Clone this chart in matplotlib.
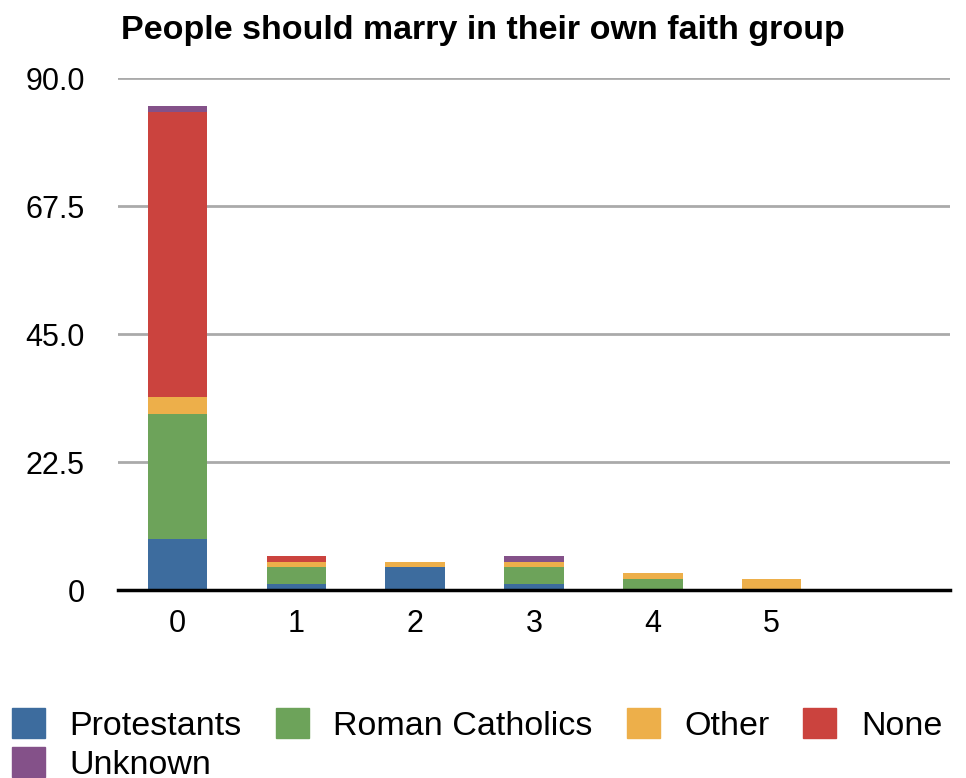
import numpy as np
import matplotlib.pyplot as plt
from matplotlib.patches import Patch

plt.rcParams['font.family'] = ['Liberation Sans', 'DejaVu Sans']

# datos
categorias = ['0', '1', '2', '3', '4', '5']
protestantes = [9, 1, 4, 1, 0, 0]
catolicos = [22, 3, 0, 3, 2, 0]
otros = [3, 1, 1, 1, 1, 2]
ninguno = [50, 1, 0, 0, 0, 0]
desconocido = [1, 0, 0, 1, 0, 0]

series = [('Protestants', protestantes, '#3D6C9E'),
          ('Roman Catholics', catolicos, '#6DA35A'),
          ('Other', otros, '#EDAF4A'),
          ('None', ninguno, '#CB433E'),
          ('Unknown', desconocido, '#845189')]

fig = plt.figure(figsize=(9.66, 7.78), dpi=100)
ax = fig.add_axes([118/966, 1 - 590/778, (950-118)/966, (590-78)/778])

x = np.arange(len(categorias))
base = np.zeros(len(categorias))
handles = {}
for nombre, vals, col in series:
    ax.bar(x, vals, width=0.5, bottom=base, color=col, zorder=3)
    base += np.array(vals)
    handles[nombre] = Patch(color=col, label=nombre)

ax.set_xlim(-0.5, 6.5)
ax.set_ylim(0, 90)
ax.set_yticks([0, 22.5, 45, 67.5, 90])
ax.set_yticklabels(['0', '22.5', '45.0', '67.5', '90.0'])
ax.set_xticks(x)
ax.set_xticklabels(categorias)
ax.tick_params(length=0, labelsize=22)
ax.tick_params(axis='x', pad=14)
ax.tick_params(axis='y', pad=24)
ax.grid(axis='y', color='#AAAAAA', linewidth=2, zorder=0)
for s in ['top', 'right', 'left']:
    ax.spines[s].set_visible(False)
ax.spines['bottom'].set_linewidth(2.5)
ax.spines['bottom'].set_zorder(4)

fig.text(0.5, 1 - 30/778, 'People should marry in their own faith group',
         ha='center', va='center', fontsize=24.5, fontweight='bold')

# orden para que "Unknown" quede debajo de "Protestants"
orden = ['Protestants', 'Unknown', 'Roman Catholics', 'Other', 'None']
fig.legend([handles[n] for n in orden], orden, ncol=4, loc='upper left',
           bbox_to_anchor=(12/966, 1 - 708/778), frameon=False, fontsize=24.5,
           handlelength=0.97, handleheight=0.97, handletextpad=0.72,
           columnspacing=1.0, labelspacing=0.17, borderaxespad=0, borderpad=0)

plt.savefig('out.png', dpi=100)
